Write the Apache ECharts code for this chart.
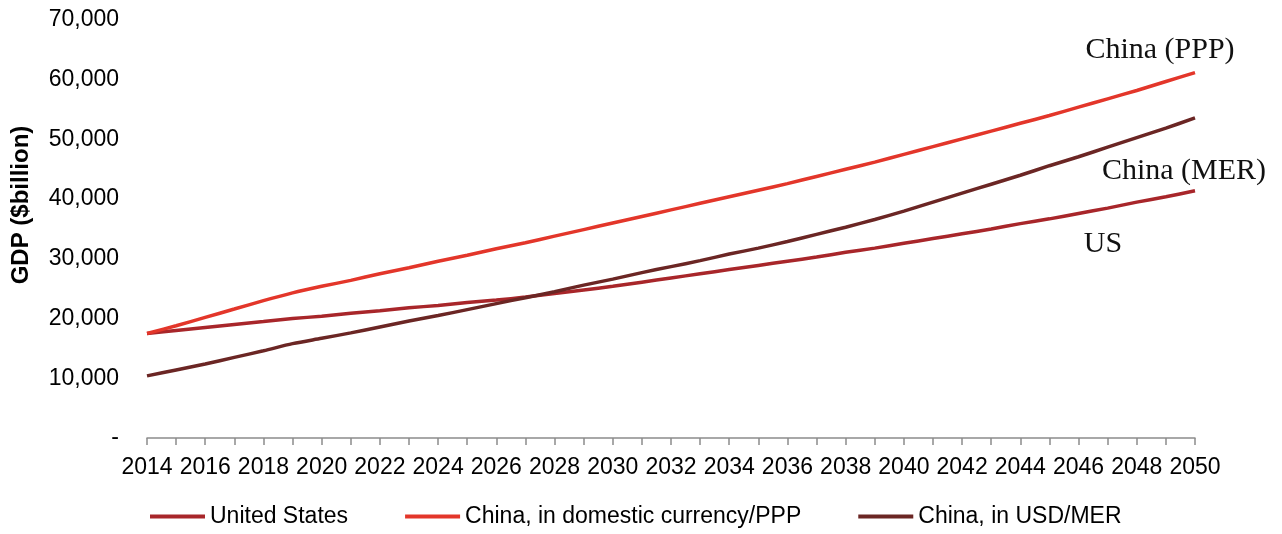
<!DOCTYPE html>
<html>
<head>
<meta charset="utf-8">
<script src="https://cdn.jsdelivr.net/npm/echarts@6/dist/echarts.min.js"></script>
<style>
html,body{margin:0;padding:0;background:#fff;}
#chart{width:1282px;height:534px;}
</style>
</head>
<body>
<div id="chart"></div>
<script>
const years = [];
for (let y = 2014; y <= 2050; y++) years.push(String(y));

const usValues = [17.5,18.0,18.5,19.0,19.5,20.0,20.4,20.9,21.3,21.8,22.2,22.7,23.1,23.6,24.2,24.8,25.4,26.1,26.8,27.5,28.2,28.9,29.6,30.3,31.1,31.8,32.6,33.4,34.2,35.0,35.9,36.7,37.6,38.5,39.5,40.4,41.4].map(v => v * 1000);
const pppValues = [17.5,18.8,20.2,21.6,23.0,24.3,25.4,26.4,27.5,28.5,29.6,30.6,31.7,32.7,33.8,34.9,36.0,37.1,38.2,39.3,40.4,41.5,42.6,43.8,45.0,46.2,47.5,48.8,50.1,51.4,52.7,54.0,55.4,56.8,58.2,59.7,61.2].map(v => v * 1000);
const merValues = [10.4,11.4,12.4,13.5,14.6,15.8,16.7,17.6,18.6,19.6,20.5,21.5,22.5,23.5,24.5,25.6,26.6,27.7,28.7,29.7,30.8,31.8,32.9,34.1,35.3,36.6,38.0,39.5,41.0,42.5,44.0,45.6,47.1,48.7,50.3,51.9,53.6].map(v => v * 1000);

const seriesNames = ['United States', 'China, in domestic currency/PPP', 'China, in USD/MER'];
const annotations = ['US', 'China (PPP)', 'China (MER)'];
const colors = ['#A8262A', '#E3362A', '#6B2624'];
const sans = 'Liberation Sans, Arial, sans-serif';

const chart = echarts.init(document.getElementById('chart'));

function endMark(values, text, offset) {
  const last = values.length - 1;
  return {
    symbol: 'circle',
    symbolSize: 0,
    silent: true,
    data: [{
      coord: [years[last], values[last]],
      label: {
        show: true,
        formatter: text,
        offset: offset,
        color: '#111',
        fontFamily: 'Liberation Serif, DejaVu Serif, serif',
        fontSize: 30
      }
    }]
  };
}

const lineSeries = (name, data, color, mark) => ({
  name: name,
  type: 'line',
  data: data,
  smooth: 0.3,
  symbol: 'none',
  lineStyle: { width: 3.5, color: color },
  itemStyle: { color: color },
  markPoint: mark
});

chart.setOption({
  animation: false,
  grid: { left: 147, right: 87, top: 20, bottom: 96, containLabel: false, outerBoundsMode: 'none' },
  legend: {
    top: 500,
    left: 145,
    icon: 'rect',
    itemWidth: 55,
    itemHeight: 4,
    itemGap: 57,
    textStyle: { fontFamily: sans, fontSize: 23, color: '#000' },
    data: seriesNames
  },
  xAxis: {
    type: 'category',
    data: years,
    boundaryGap: false,
    axisLine: { lineStyle: { color: '#8c8c8c', width: 1.5 } },
    axisTick: { show: true, interval: 0, length: 7, lineStyle: { color: '#8c8c8c', width: 1.5 } },
    axisLabel: {
      interval: 1,
      margin: 18,
      color: '#000',
      fontFamily: sans,
      fontSize: 23
    },
    splitLine: { show: false }
  },
  yAxis: {
    type: 'value',
    min: 0,
    max: 70000,
    interval: 10000,
    name: 'GDP ($billion)',
    nameLocation: 'middle',
    nameGap: 114,
    nameTextStyle: { fontFamily: sans, fontSize: 24, fontWeight: 'bold', color: '#000', padding: [0, 0, 0, 48] },
    axisLine: { show: false },
    axisTick: { show: false },
    splitLine: { show: false },
    axisLabel: {
      margin: 28,
      color: '#000',
      fontFamily: sans,
      fontSize: 23,
      formatter: v => v === 0 ? '-' : v.toLocaleString('en-US')
    }
  },
  series: [
    lineSeries(seriesNames[0], usValues, colors[0], endMark(usValues, annotations[0], [-92, 53])),
    lineSeries(seriesNames[1], pppValues, colors[1], endMark(pppValues, annotations[1], [-35, -22])),
    lineSeries(seriesNames[2], merValues, colors[2], endMark(merValues, annotations[2], [-11, 53]))
  ]
});
</script>
</body>
</html>
